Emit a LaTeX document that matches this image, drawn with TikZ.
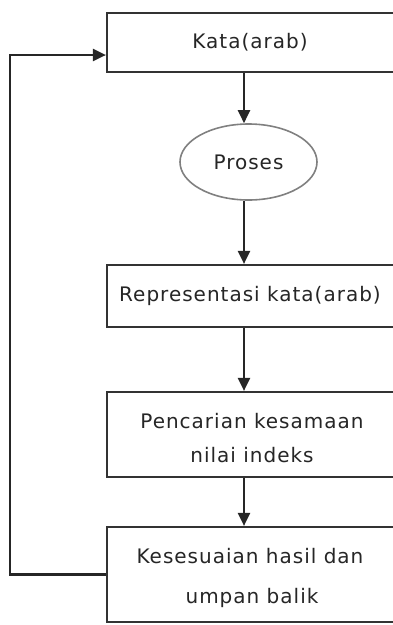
\documentclass[tikz,border=0pt]{standalone}
\usepackage{fontspec}
\setmainfont{DejaVu Sans}[LetterSpace=5]
\usetikzlibrary{arrows.meta,shapes.geometric}

\newcommand{\turun}{\rule{0pt}{23pt}}

\begin{document}
\begin{tikzpicture}[
    x=1pt, y=-1pt,
    kotak/.style={draw=black!80, line width=2.2pt, fill=white, minimum width=290pt, inner sep=0pt, align=center, text=black!85},
    elips/.style={ellipse, draw=black!50, line width=1.6pt, fill=white, minimum width=137pt, minimum height=76pt, inner sep=0pt, text=black!85},
    garis/.style={draw=black!85, line width=2.2pt},
    >={Triangle[length=13pt, width=12pt]},
    font=\fontsize{20}{22}\selectfont
]
    \useasboundingbox (0,0) rectangle (392,625);

    % simpul-simpul alur
    \node[kotak, minimum height=59pt] (kata) at (252,42.5) {\hspace*{-4pt}Kata(arab)};
    \node[elips] (proses) at (248.5,162) {Proses};
    \node[kotak, minimum height=62pt] (repr) at (252,296) {\hspace*{-4pt}Representasi kata(arab)};
    \node[kotak, minimum height=85pt] (cari) at (252,434.5) {\turun Pencarian kesamaan\\[12pt]nilai indeks};
    \node[kotak, minimum height=95pt] (sesuai) at (252,574.5) {\turun\hspace*{-4pt}Kesesuaian hasil dan\\[18pt]umpan balik};

    % titik bantu
    \coordinate (ax) at (244,0);
    \coordinate (balik) at (10,55);

    % panah ke bawah
    \draw[garis,->] (kata.south -| ax) -- (proses.north -| ax);
    \draw[garis,->] (proses.south -| ax) -- (repr.north -| ax);
    \draw[garis,->] (repr.south -| ax) -- (cari.north -| ax);
    \draw[garis,->] (cari.south -| ax) -- (sesuai.north -| ax);

    % umpan balik
    \draw[garis,->] (sesuai.west) -| (balik) -- (balik -| kata.west);
\end{tikzpicture}
\end{document}
